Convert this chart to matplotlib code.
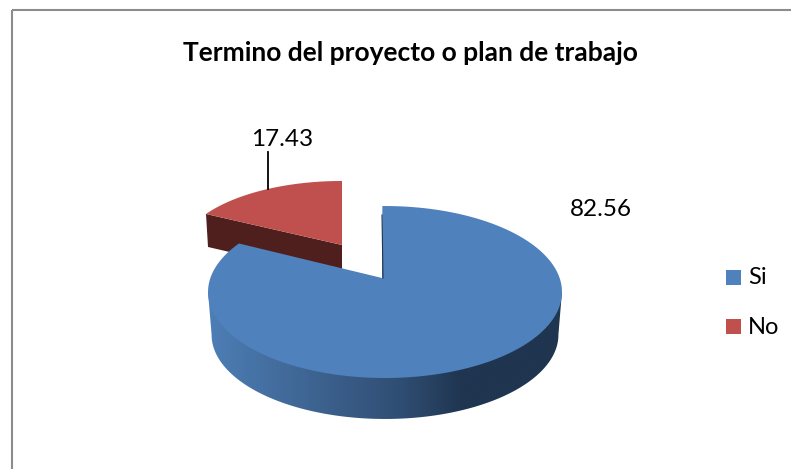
import numpy as np
import matplotlib
matplotlib.use('Agg')
from matplotlib import pyplot as plt
from matplotlib.colors import LinearSegmentedColormap
from matplotlib.patches import Polygon, Rectangle

categories = ['Si', 'No']
values = [82.56, 17.43]
value_labels = ['82.56', '17.43']
title = 'Termino del proyecto o plan de trabajo'

BLUE = '#4f81bd'
RED = '#c0504d'
RED_DARK = '#4f1f1e'
BLUE_DARK = '#1f3550'

plt.rcParams['font.family'] = ['Lato', 'DejaVu Sans']


def disc_points(start, sweep, apex, rx, ry, k, shift=0.0):
    """Points on a tilted disc, start and sweep in degrees clockwise from 12 o'clock.
    k is the perspective factor, far side comes out smaller than the near side.
    """
    t = np.radians(np.linspace(start, start + sweep, 400))
    x, y = np.sin(t), np.cos(t)
    w = 1 + k * y
    return np.column_stack([apex[0] + shift + rx * x / w, apex[1] - ry * y / w])


def near_half(points):
    """Part of a 0-360 disc outline from its rightmost to its leftmost point, via the bottom."""
    right, left = points[:, 0].argmax(), points[:, 0].argmin()
    return points[right:left + 1]


fig = plt.figure(figsize=(7.91, 4.69), dpi=100)
ax = fig.add_axes([0, 0, 1, 1])

# chart frame, only the top and left sides fall inside the picture
ax.add_patch(Rectangle((12, 10), 820, 500, fill=False, ec='#8c8c8c', lw=1.5))

total = sum(values)
blue_sweep = 360 * values[0] / total
red_sweep = 360 * values[1] / total

# red slice, pulled out up and to the left
red_apex = (342, 245)
red_arc = disc_points(-red_sweep, red_sweep, red_apex, 160.8, 71.2, 0.112)
red_low = (red_arc[0][0] + 2, red_arc[0][1] + 33)
ax.add_patch(Polygon([red_arc[0], red_apex, (342, 278), red_low], fc=RED_DARK, ec='none'))
ax.add_patch(Polygon(np.vstack([red_apex, red_arc]), fc=RED, ec='none'))

# blue side wall with a left to right shading
blue_apex = (382, 278)
top_near = near_half(disc_points(0, 360, blue_apex, 174.6, 83.7, 0.163, shift=3))
low_near = near_half(disc_points(0, 360, (382, 321), 171.1, 82.0, 0.163, shift=3))
wall = Polygon(np.vstack([top_near[:1], low_near, top_near[-1:]]), fc='none', ec='none')
ax.add_patch(wall)
cmap = LinearSegmentedColormap.from_list(
    'wall', [(0, '#4d7eb6'), (0.27, '#3f6694'), (0.55, '#2f4d72'), (0.72, BLUE_DARK), (1, BLUE_DARK)])
img = ax.imshow(np.linspace(0, 1, 256)[None, :], extent=(208, 562, 425, 250), cmap=cmap,
                aspect='auto', zorder=1.5)
img.set_clip_path(wall)

# blue top face
blue_arc = disc_points(-1, blue_sweep, blue_apex, 174.6, 83.7, 0.163, shift=3)
ax.add_patch(Polygon(np.vstack([blue_apex, blue_arc]), fc=BLUE, ec='none', zorder=2))
ax.plot([382, 383], [215, 278], color=BLUE_DARK, lw=0.8, zorder=2)

# data labels
ax.plot([268, 268], [152, 189], color='black', lw=1.3, zorder=3)
ax.text(282, 139, value_labels[1], ha='center', va='center', fontsize=17.5, color='black')
ax.text(601, 209, value_labels[0], ha='center', va='center', fontsize=17.5, color='black')

ax.text(410, 53, title, ha='center', va='center', fontsize=19, fontweight='bold', color='black')

# legend
for y, name, color in zip([270, 319], categories, [BLUE, RED]):
    ax.add_patch(Rectangle((726, y), 15, 15, fc=color, ec='none'))
    ax.text(748, y + 8, name, ha='left', va='center', fontsize=17, color='black')

ax.set_xlim(0, 791)
ax.set_ylim(469, 0)
ax.axis('off')

fig.savefig('out.png', dpi=100)
